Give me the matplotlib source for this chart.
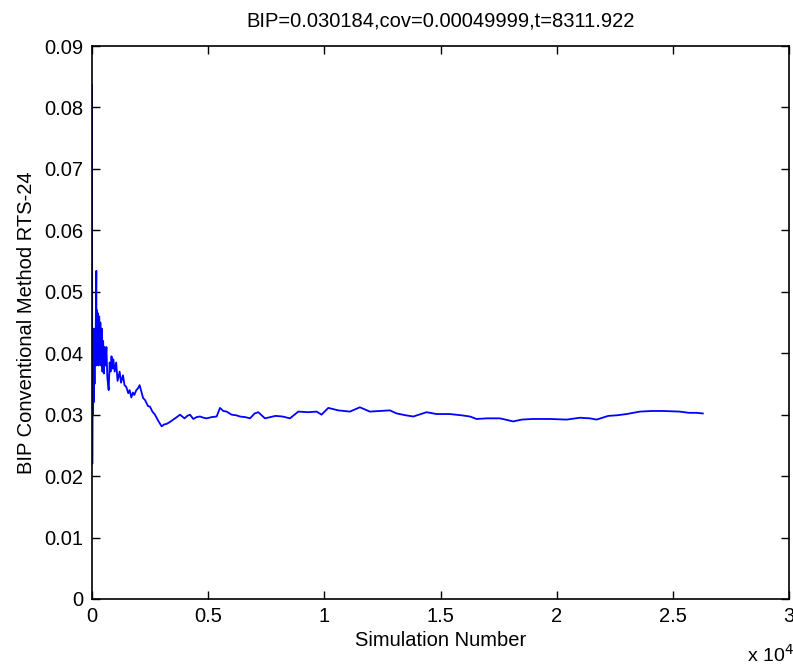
import matplotlib
matplotlib.use("Agg")
import matplotlib.pyplot as plt
from matplotlib.ticker import FuncFormatter

plt.rcParams['font.family'] = ['Liberation Sans', 'DejaVu Sans']

title = "BIP=0.030184,cov=0.00049999,t=8311.922"
xlabel = "Simulation Number"
ylabel = "BIP Conventional Method RTS-24"

sim_number = [0, 5, 12, 25, 40, 55, 70, 90, 110, 130, 150, 186, 195, 215, 235, 260,
              285, 310, 335, 360, 390, 420, 450, 480, 510, 545, 580, 620, 660, 717,
              760, 800, 840, 880, 920, 975, 1040, 1100, 1190, 1250, 1333, 1400, 1477,
              1560, 1620, 1692, 1760, 1820, 1908, 1980, 2051, 2120, 2200, 2280, 2410,
              2496, 2600, 2711, 2850, 2998, 3100, 3213, 3350, 3500, 3650, 3787, 3880,
              3980, 4100, 4217, 4360, 4500, 4647, 4800, 4935, 5150, 5365, 5508, 5650,
              5795, 6010, 6200, 6368, 6600, 6799, 7000, 7157, 7444, 7900, 8200, 8520,
              8880, 9300, 9670, 9880, 10170, 10600, 11100, 11530, 11960, 12400, 12820,
              13110, 13500, 13830, 14400, 14830, 15400, 15900, 16270, 16550, 17000,
              17560, 18130, 18500, 18990, 19700, 20430, 21000, 21430, 21720, 22220,
              22600, 23010, 23580, 24100, 24580, 25300, 25700, 26020, 26290]
bip = [0.0837, 0.060, 0.022, 0.036, 0.030, 0.044, 0.032, 0.042, 0.035, 0.044, 0.040,
       0.0534, 0.038, 0.047, 0.039, 0.0465, 0.038, 0.046, 0.039, 0.045, 0.038, 0.044,
       0.037, 0.042, 0.0367, 0.041, 0.038, 0.041, 0.036, 0.034, 0.0385, 0.037, 0.0395,
       0.0375, 0.039, 0.037, 0.0385, 0.0355, 0.037, 0.0352, 0.0364, 0.0348, 0.0345,
       0.0335, 0.034, 0.0328, 0.0336, 0.0332, 0.0340, 0.0343, 0.0348, 0.0338, 0.0327,
       0.0324, 0.0314, 0.0313, 0.0305, 0.0300, 0.0290, 0.0281, 0.0284, 0.0285, 0.0288,
       0.0292, 0.0296, 0.0300, 0.0297, 0.0294, 0.0298, 0.0300, 0.0293, 0.0296, 0.0297,
       0.0295, 0.0294, 0.0296, 0.0297, 0.0311, 0.0306, 0.0305, 0.0300, 0.0299, 0.0297,
       0.0296, 0.0294, 0.0302, 0.0304, 0.0294, 0.0298, 0.0297, 0.0294, 0.0305, 0.0304,
       0.0305, 0.0300, 0.0311, 0.0307, 0.0305, 0.0312, 0.0305, 0.0306, 0.0307, 0.0302,
       0.0299, 0.0297, 0.0304, 0.0301, 0.0301, 0.0299, 0.0297, 0.0293, 0.0294, 0.0294,
       0.0289, 0.0292, 0.0293, 0.0293, 0.0292, 0.0295, 0.0294, 0.0292, 0.0298, 0.0299,
       0.0301, 0.0305, 0.0306, 0.0306, 0.0305, 0.0303, 0.0303, 0.0302]

x_ticks = [0, 5000, 10000, 15000, 20000, 25000, 30000]
y_ticks = [0, 0.01, 0.02, 0.03, 0.04, 0.05, 0.06, 0.07, 0.08, 0.09]

fig = plt.figure(figsize=(7.93, 6.67), dpi=100)
ax = fig.add_axes([92/793, 68/667, (789-92)/793, (599-46)/667])
ax.plot(sim_number, bip, color='#0000ff', lw=1.3)

ax.set_xlim(0, 30000)
ax.set_ylim(0, 0.09)
ax.set_xticks(x_ticks)
ax.set_yticks(y_ticks)
ax.xaxis.set_major_formatter(FuncFormatter(lambda v, p: f"{v/1e4:g}"))
ax.yaxis.set_major_formatter(FuncFormatter(lambda v, p: f"{v:g}"))
ax.tick_params(direction='in', length=6, width=1, top=True, right=True,
               labelsize=14.5, pad=6)
for s in ax.spines.values():
    s.set_linewidth(1.2)

ax.set_title(title, fontsize=14.5, pad=14)
ax.set_xlabel(xlabel, fontsize=14.5, labelpad=3)
ax.set_ylabel(ylabel, fontsize=14.5, labelpad=6)
fig.text(770/793, 1 - 655/667, r"x 10$^{4}$", fontsize=14, ha='center', va='center')

fig.savefig("out.png", dpi=100, facecolor='white')
